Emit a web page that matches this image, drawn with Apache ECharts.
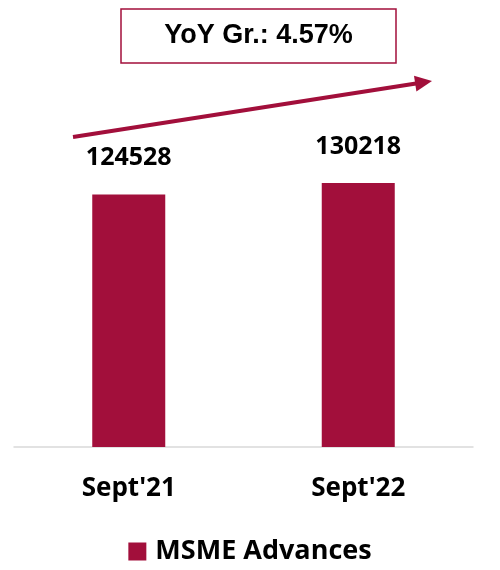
<!DOCTYPE html>
<html>
<head>
<meta charset="utf-8">
<script src="https://cdn.jsdelivr.net/npm/echarts@6/dist/echarts.min.js"></script>
<style>
  html, body { margin: 0; padding: 0; background: #fff; }
  #chart { width: 500px; height: 570px; }
</style>
</head>
<body>
<div id="chart"></div>
<script>
// data
const categories = ["Sept'21", "Sept'22"]
const msmeAdvances = [124528, 130218]
const seriesName = 'MSME Advances'
const growthText = 'YoY Gr.: 4.57%'

const barColor = '#a20f3b'
const labelFont = { fontFamily: 'Open Sans', fontWeight: 'bold', color: '#000' }

const chart = echarts.init(document.getElementById('chart'))
chart.setOption({
  animation: false,
  grid: { left: 14, right: 27, top: 41.5, bottom: 123 },
  legend: {
    data: [seriesName],
    bottom: 0,
    left: 'center',
    icon: 'rect',
    itemWidth: 18,
    itemHeight: 18,
    itemGap: 10,
    textStyle: Object.assign({ fontSize: 27, padding: [0, 0, 0, 4] }, labelFont)
  },
  xAxis: {
    type: 'category',
    data: categories,
    axisTick: { show: false },
    axisLine: { lineStyle: { color: '#d9d9d9', width: 1.5 } },
    axisLabel: Object.assign({ margin: 29, fontSize: 26 }, labelFont)
  },
  yAxis: {
    type: 'value',
    min: 0,
    max: 200000,
    show: false,
    splitLine: { show: false }
  },
  series: [
    {
      name: seriesName,
      type: 'bar',
      data: msmeAdvances,
      barWidth: 73,
      itemStyle: { color: barColor },
      label: Object.assign({ show: true, position: 'top', distance: 24, fontSize: 25 }, labelFont)
    }
  ],
  graphic: [
    {
      type: 'rect',
      shape: { x: 121, y: 9, width: 275, height: 54 },
      style: { fill: '#fff', stroke: barColor, lineWidth: 1.5 }
    },
    {
      type: 'text',
      x: 258.5,
      y: 36,
      style: {
        text: growthText,
        fontFamily: 'Liberation Sans',
        fontWeight: 'bold',
        fontSize: 27,
        fill: '#000',
        align: 'center',
        verticalAlign: 'middle'
      }
    },
    // trend arrow
    {
      type: 'line',
      shape: { x1: 73, y1: 137, x2: 416, y2: 83.6 },
      style: { stroke: barColor, lineWidth: 4 }
    },
    {
      type: 'polygon',
      shape: { points: [[416.4, 91.5], [432, 81], [414, 75.7]] },
      style: { fill: barColor }
    }
  ]
})
</script>
</body>
</html>
